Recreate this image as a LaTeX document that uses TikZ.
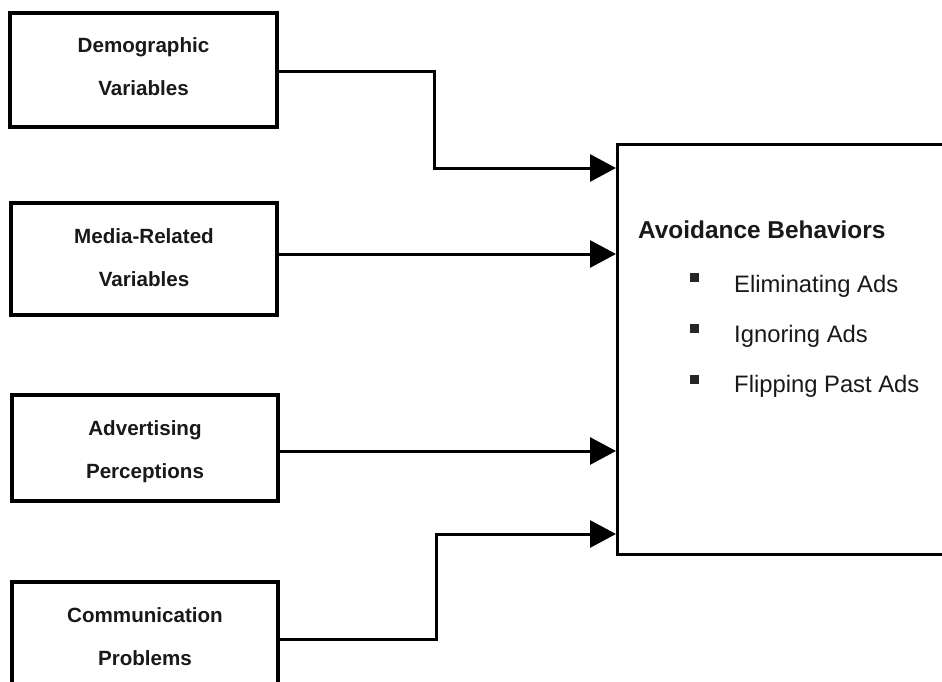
\documentclass[tikz,border=0pt]{standalone}
\usepackage{fontspec}
\setmainfont{Liberation Sans}
\usetikzlibrary{arrows.meta}

% two smashed lines, so the baselines sit exactly one \baselineskip apart
\newcommand\twoln[2]{\smash{#1}\\\smash{#2}}

\begin{document}
\begin{tikzpicture}[x=1pt,y=-1pt,
  factor/.style={draw, line width=3.4pt, rectangle, minimum width=266pt,
    minimum height=114pt, inner sep=0pt},
  factortext/.style={align=center, inner sep=0pt, text=black!90,
    font=\fontsize{20.6}{43}\selectfont\bfseries},
  outcome/.style={draw, line width=3.4pt, rectangle, minimum width=344pt,
    minimum height=410pt, inner sep=0pt, anchor=north west},
  link/.style={line width=3pt, -{Triangle[length=26pt,width=27pt]}},
  heading/.style={anchor=base west, inner sep=0pt, text=black!90,
    font=\fontsize{24.4}{29}\selectfont\bfseries},
  item/.style={anchor=base west, inner sep=0pt, text=black!90,
    font=\fontsize{23.8}{29}\selectfont},
  bullet/.style={fill=black!85, minimum size=9pt, inner sep=0pt}
]
\useasboundingbox (0,0) rectangle (942,682);
\fill[white] (0,0) rectangle (942,682);

% left-hand factor boxes
\node[factor, minimum width=267pt] (demo) at (143.5,70) {};
\node[factortext] (demotxt) at (143.5,74) {\twoln{Demographic}{Variables}};

\node[factor, minimum height=112pt] (media) at (144,259) {};
\node[factortext] (mediatxt) at (144,265) {\twoln{Media-Related}{Variables}};

\node[factor, minimum height=106pt] (adv) at (145,448) {};
\node[factortext] (advtxt) at (145,456.5) {\twoln{Advertising}{Perceptions}};

\node[factor] (comm) at (145,639) {};
\node[factortext] (commtxt) at (145,644) {\twoln{Communication}{Problems}};

% outcome box
\node[outcome] (beh) at (616,143) {};
\node[heading] (behhead) at (638,238) {Avoidance Behaviors};

\node[bullet] (b1) at (694.5,277) {};
\node[item] (i1) at (734,292) {Eliminating Ads};
\node[bullet] (b2) at (694.5,328) {};
\node[item] (i2) at (734,342) {Ignoring Ads};
\node[bullet] (b3) at (694.5,379) {};
\node[item] (i3) at (734,392) {Flipping Past Ads};

% connectors into the outcome box
\coordinate (in1) at (beh.west |- 0,168);
\coordinate (in4) at (beh.west |- 0,534);

\draw[link] ([yshift=-2pt]demo.east) -- (434.5,72) |- (in1);
\draw[link] ([yshift=5pt]media.east) -- (beh.west |- 0,254);
\draw[link] ([yshift=-3pt]adv.east) -- (beh.west |- 0,451);
\draw[link] (comm.east) -- (436,639) |- (in4);
\end{tikzpicture}
\end{document}
